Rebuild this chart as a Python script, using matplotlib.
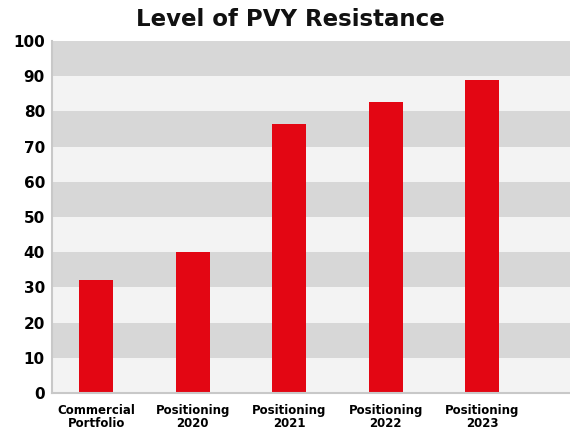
import matplotlib.pyplot as plt
import numpy as np

categories = ['Commercial\nPortfolio', 'Positioning\n2020', 'Positioning\n2021',
              'Positioning\n2022', 'Positioning\n2023']
values = [32, 40, 76.5, 82.5, 89]
yticks = [0, 10, 20, 30, 40, 50, 60, 70, 80, 90, 100]

plt.rcParams['font.family'] = ['DejaVu Sans']

fig = plt.figure(figsize=(5.7, 4.3), dpi=100)
ax = fig.add_axes([0.091, 0.086, 0.909, 0.819])

# alternating bands
for lo in range(0, 100, 10):
    col = '#d7d7d7' if (lo // 10) % 2 == 1 else '#f3f3f3'
    ax.axhspan(lo, lo + 10, color=col, zorder=0, lw=0)

x = np.arange(len(categories))
ax.bar(x, values, width=0.35, color='#e30613', zorder=2)

ax.set_xlim(-0.46, 4.91)
ax.set_ylim(0, 100)
ax.set_yticks(yticks)
ax.set_yticklabels([str(v) for v in yticks], fontsize=11, fontweight='bold')
ax.set_xticks(x)
ax.set_xticklabels(categories, fontsize=8.5, fontweight='bold', linespacing=1.0)
ax.tick_params(length=0, pad=5)
ax.tick_params(axis='x', pad=8)

for s in ['top', 'right']:
    ax.spines[s].set_visible(False)
ax.spines['left'].set_color('#c8c8c8')
ax.spines['bottom'].set_color('#c8c8c8')
ax.spines['left'].set_linewidth(1.5)
ax.spines['bottom'].set_linewidth(1.5)

fig.text(0.51, 0.955, 'Level of PVY Resistance', ha='center', va='center',
         fontsize=16.5, fontweight='bold', color='#111111')

fig.savefig('out.png', dpi=100)
